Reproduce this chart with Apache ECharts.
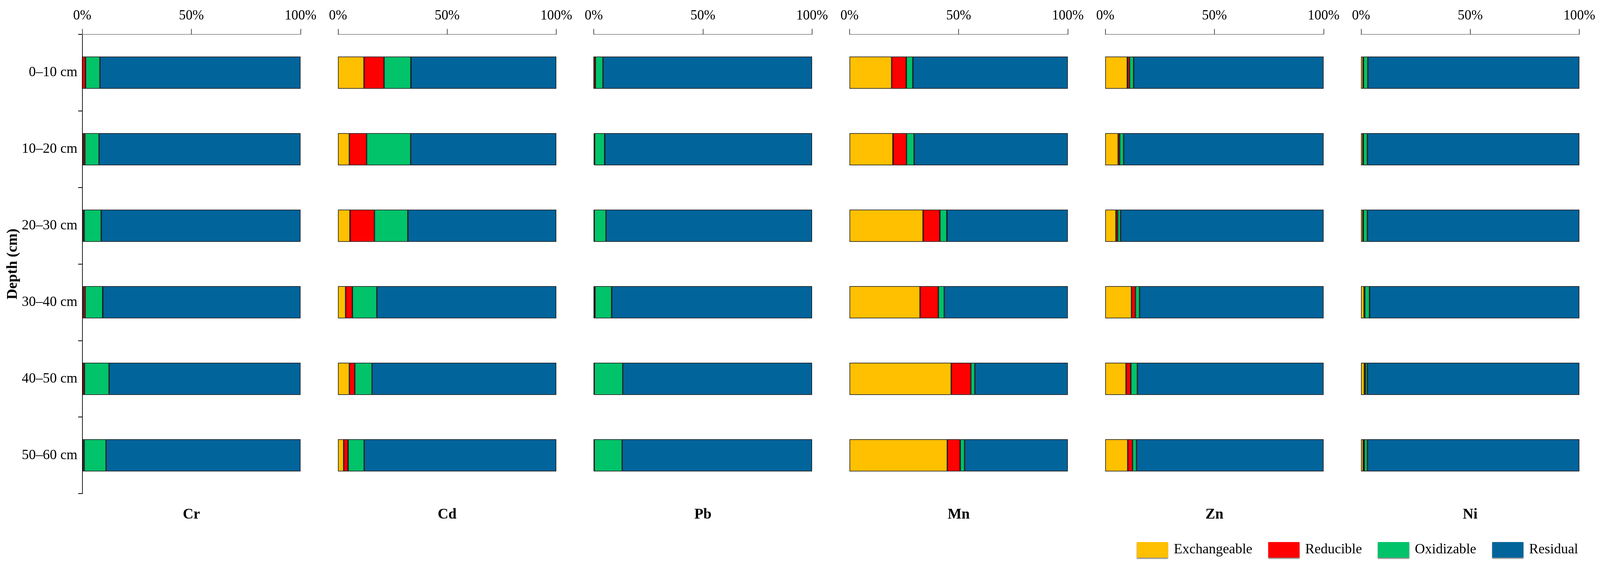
<!DOCTYPE html>
<html>
<head>
<meta charset="utf-8">
<script src="https://cdn.jsdelivr.net/npm/echarts@6/dist/echarts.min.js"></script>
<style>
html,body{margin:0;padding:0;background:#fff;overflow:hidden;}
#chart{width:100vw;height:100vh;}
</style>
</head>
<body>
<div id="chart"></div>
<script>
const depths = ['0–10 cm', '10–20 cm', '20–30 cm', '30–40 cm', '40–50 cm', '50–60 cm'];
const metals = ['Cr', 'Cd', 'Pb', 'Mn', 'Zn', 'Ni'];
const fractions = ['Exchangeable', 'Reducible', 'Oxidizable', 'Residual'];
const xTicks = [0, 50, 100];

// percentages per depth (top to bottom)
const crExchangeable = [0.0, 0.4, 0.3, 0.4, 0.2, 0.5];
const crReducible    = [1.5, 0.8, 0.6, 0.9, 0.8, 0.4];
const crOxidizable   = [6.6, 6.5, 7.8, 8.1, 11.3, 10.0];
const crResidual     = [91.9, 92.3, 91.3, 90.6, 87.7, 89.1];

const cdExchangeable = [11.9, 5.2, 5.5, 3.5, 5.2, 2.6];
const cdReducible    = [9.2, 7.9, 11.2, 3.1, 2.5, 2.0];
const cdOxidizable   = [12.3, 20.2, 15.3, 11.2, 7.9, 7.4];
const cdResidual     = [66.6, 66.7, 68.0, 82.2, 84.4, 88.0];

const pbExchangeable = [0.0, 0.2, 0.1, 0.1, 0.1, 0.1];
const pbReducible    = [0.7, 0.2, 0.1, 0.5, 0.1, 0.1];
const pbOxidizable   = [3.5, 4.6, 5.4, 7.6, 13.1, 12.8];
const pbResidual     = [95.8, 95.0, 94.4, 91.8, 86.7, 87.0];

const mnExchangeable = [19.3, 19.9, 33.7, 32.3, 46.6, 44.8];
const mnReducible    = [6.7, 6.2, 7.7, 8.4, 9.0, 5.9];
const mnOxidizable   = [3.0, 3.5, 3.2, 2.7, 1.8, 2.0];
const mnResidual     = [71.0, 70.4, 55.4, 56.6, 42.6, 47.3];

const znExchangeable = [10.1, 5.9, 4.9, 12.0, 9.5, 10.3];
const znReducible    = [1.0, 0.7, 0.8, 1.8, 2.2, 2.2];
const znOxidizable   = [1.9, 1.8, 1.3, 1.9, 3.0, 1.8];
const znResidual     = [87.0, 91.6, 93.0, 84.3, 85.3, 85.7];

const niExchangeable = [0.9, 0.8, 0.8, 1.4, 1.5, 1.0];
const niReducible    = [0.2, 0.2, 0.2, 0.3, 0.5, 0.5];
const niOxidizable   = [2.0, 1.9, 1.9, 2.2, 0.9, 1.4];
const niResidual     = [96.9, 97.1, 97.1, 96.1, 97.1, 97.1];

const metalData = [
  [crExchangeable, crReducible, crOxidizable, crResidual],
  [cdExchangeable, cdReducible, cdOxidizable, cdResidual],
  [pbExchangeable, pbReducible, pbOxidizable, pbResidual],
  [mnExchangeable, mnReducible, mnOxidizable, mnResidual],
  [znExchangeable, znReducible, znOxidizable, znResidual],
  [niExchangeable, niReducible, niOxidizable, niResidual]
];

const colors = ['#FFC000', '#FF0000', '#00C36A', '#01649B'];
const FONT = '"Liberation Serif", "Times New Roman", serif';

const el = document.getElementById('chart');
const chart = echarts.init(el, null, {renderer: 'canvas'});
const W = chart.getWidth(), H = chart.getHeight();
const sx = W / 4339, sy = H / 1456;
const fs = Math.min(sx, sy);

const gridLeft0 = 223 * sx, gridStep = 693.6 * sx, gridW = 592 * sx, gridTop = 88 * sy, gridH = 1175 * sy;

const grids = [], xAxes = [], yAxes = [], series = [];
metals.forEach((m, i) => {
  const left = gridLeft0 + i * gridStep;
  grids.push({left: left, top: gridTop, width: gridW, height: gridH, containLabel: false});
  xAxes.push({
    type: 'value', gridIndex: i, position: 'top', min: xTicks[0], max: xTicks[2], interval: 50,
    axisLine: {show: true, lineStyle: {color: '#9a9a9a', width: 2}},
    axisTick: {show: true, length: 14 * sy, lineStyle: {color: '#555', width: 2}},
    axisLabel: {show: true, margin: 30 * sy, formatter: '{value}%', color: '#000', fontFamily: FONT, fontSize: 37 * fs},
    splitLine: {show: false}
  });
  const first = i === 0;
  yAxes.push({
    type: 'category', gridIndex: i, data: depths, inverse: true,
    axisLine: {show: first, lineStyle: {color: '#222', width: 2}},
    axisTick: {show: first, length: 11 * sx, lineStyle: {color: '#000', width: 2}},
    axisLabel: {show: first, margin: 13 * sx, color: '#000', fontFamily: FONT, fontSize: 38 * fs},
    name: first ? 'Depth (cm)' : '',
    nameLocation: 'middle', nameRotate: 90, nameGap: 168 * sx,
    nameTextStyle: {fontFamily: FONT, fontSize: 40 * fs, fontWeight: 'bold', color: '#000'}
  });
  fractions.forEach((f, k) => {
    series.push({
      name: f, type: 'bar', stack: 'm' + i, xAxisIndex: i, yAxisIndex: i,
      data: metalData[i][k], barWidth: '42%',
      itemStyle: {color: colors[k], borderColor: '#111', borderWidth: 1.5},
      emphasis: {disabled: true}
    });
  });
});

chart.setOption({
  animation: false,
  backgroundColor: '#fff',
  color: colors,
  grid: grids,
  xAxis: xAxes,
  yAxis: yAxes,
  series: series,
  legend: {
    data: fractions, right: 54 * sx, top: 1382 * sy, orient: 'horizontal',
    icon: 'rect', itemWidth: 85 * sx, itemHeight: 40 * sy, itemGap: 43 * sx,
    textStyle: {fontFamily: FONT, fontSize: 38 * fs, color: '#000', padding: [0, 0, 0, 10 * sx]},
    itemStyle: {borderWidth: 0, shadowColor: 'rgba(0,0,0,0.45)', shadowOffsetY: 3, shadowBlur: 2}
  },
  graphic: metals.map((m, i) => ({
    type: 'text',
    x: gridLeft0 + i * gridStep + gridW / 2,
    y: 1317 * sy,
    style: {text: m, font: 'bold ' + (40 * fs) + 'px ' + FONT, fill: '#000', align: 'center', verticalAlign: 'middle'}
  }))
});
</script>
</body>
</html>
